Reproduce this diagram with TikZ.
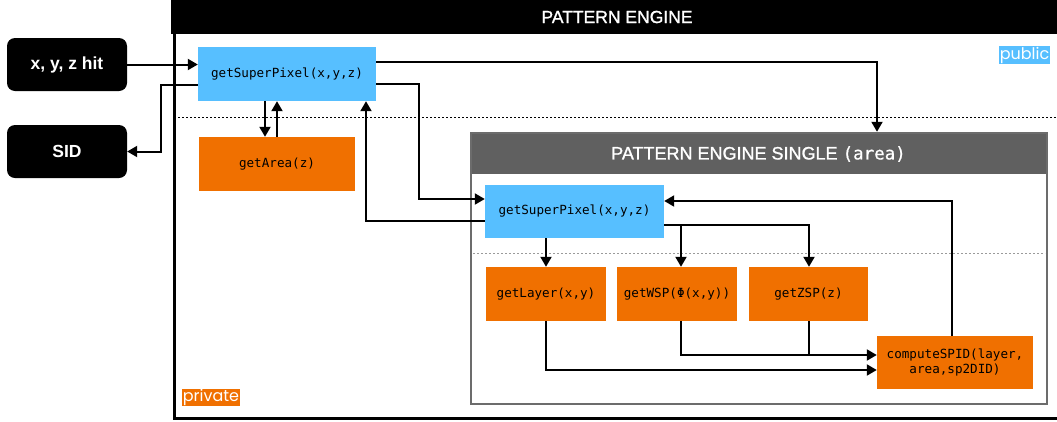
\documentclass[tikz,border=0pt]{standalone}
\usepackage{fontspec}
\setmainfont{Liberation Sans}
\setmonofont{DejaVu Sans Mono}
\newfontfamily\tagfont{Poppins}
\newfontfamily\titlefont{Liberation Sans}[FakeBold=1.2]
\newfontfamily\titlemono{DejaVu Sans Mono}[FakeBold=0.6]
\usetikzlibrary{arrows.meta}

\definecolor{pubblue}{HTML}{57BFFF}
\definecolor{privorange}{HTML}{F07000}
\definecolor{singlebar}{HTML}{606060}
\definecolor{singleedge}{HTML}{6C6C6C}
\definecolor{sepgray}{HTML}{9A9A9A}

\begin{document}
\begin{tikzpicture}[x=1pt,y=-1pt,
  fn/.style={minimum width=#1, minimum height=54pt, inner sep=0pt,
    font=\fontsize{12.6}{14.7}\selectfont\ttfamily, align=center},
  pubfn/.style={fn=#1, fill=pubblue},
  privfn/.style={fn=#1, fill=privorange},
  io/.style={fill=black, rounded corners=8pt, minimum width=120pt,
    minimum height=53pt, inner sep=0pt, text=white,
    font=\fontsize{17.5}{20}\selectfont\bfseries},
  arr/.style={line width=2pt, -{Triangle[length=10pt,width=11pt]}},
  wire/.style={line width=2pt},
  tag/.style={text=white, font=\tagfont\fontsize{16}{17}\selectfont,
    inner xsep=0.8pt, inner ysep=0.6pt},
  bartitle/.style={text=white, inner sep=0pt,
    font=\titlefont\fontsize{17.5}{20}\selectfont}
]
\useasboundingbox (0,0) rectangle (1057,421);

% ---- outer component: PATTERN ENGINE ----
\node[draw, line width=3pt, minimum width=893pt, minimum height=418pt,
      inner sep=0pt, anchor=north west] (engine) at (172.5,-1.5) {};
\fill[black] (171,0) rectangle (1066,34);
\node[bartitle] (enginetitle) at (617,17) {PATTERN ENGINE};
\draw[line width=1pt, dash pattern=on 2pt off 2pt] (174,117) -- (1057,117);
\node[tag, fill=pubblue] (public) at (1024.5,55) {public};
\node[tag, fill=privorange] (private) at (211,397.5) {private};

% ---- external inputs / outputs ----
\node[io] (hit) at (67,64.5) {x, y, z hit};
\node[io] (sid) at (67,151.5) {SID};

% ---- public entry and area lookup ----
\node[pubfn=178pt] (spTop) at (287,74) {getSuperPixel(x,y,z)};
\node[privfn=156pt] (area) at (277,164) {getArea(z)};

% ---- inner component: PATTERN ENGINE SINGLE ----
\fill[singlebar] (471,133) rectangle (1047,174);
\node[draw=singleedge, line width=2.5pt, minimum width=576pt,
      minimum height=271pt, inner sep=0pt] (sgl) at (759,268.5) {};
\node[bartitle, font=\titlefont\fontsize{18}{20}\selectfont] (sgltitle) at (758.5,154)
  {PATTERN ENGINE SINGLE {\titlemono\fontsize{17.5}{20}\selectfont(area)}};
\draw[sepgray, line width=1pt, dash pattern=on 2pt off 2pt] (473,253) -- (1045,253);

\node[pubfn=179pt, minimum height=53pt] (spIn) at (574.5,211.5) {getSuperPixel(x,y,z)};
\node[privfn=120pt] (layer) at (546,294) {getLayer(x,y)};
\node[privfn=120pt] (wsp) at (677,294) {getWSP(Φ(x,y))};
\node[privfn=119pt] (zsp) at (808.5,294) {getZSP(z)};
\node[privfn=156pt, minimum height=53pt] (spid) at (955,362.5)
  {computeSPID(layer,\\area,sp2DID)};

% ---- routing lanes ----
\coordinate (xb) at (161,0);
\coordinate (xa) at (265,0);
\coordinate (xr) at (366,0);
\coordinate (xs) at (419,0);
\coordinate (xw) at (681,0);
\coordinate (xz) at (809,0);
\coordinate (xp) at (877,0);
\coordinate (inA) at ([yshift=12.5pt]spIn.west);
\coordinate (inB) at ([yshift=-9.5pt]spIn.west);
\coordinate (outC) at ([yshift=-13.5pt]spIn.east);
\coordinate (inD) at ([yshift=7.5pt]spid.west);

% ---- connectors ----
\draw[arr] (hit.east) -- (hit.east -| spTop.west);
\draw[arr] ([yshift=-11pt]spTop.west) -| (xb |- sid.east) -- (sid.east);
\draw[arr] (xa |- spTop.south) -- (xa |- area.north);
\draw[arr] (area.north) -- (area.north |- spTop.south);
\draw[arr] ([yshift=12pt]spTop.east) -| (xp |- sgl.north);
\draw[arr] ([yshift=-10pt]spTop.east) -| (xs |- inA) -- (inA);
\draw[arr] (inB) -| (xr |- spTop.south);

\draw[arr] (spIn.south -| layer.north) -- (layer.north);
\draw[arr] (outC) -| (xz |- zsp.north);
\draw[arr] (xw |- outC) -- (xw |- wsp.north);
\draw[arr] (xw |- wsp.south) |- (inD);
\draw[wire] (xz |- zsp.south) -- (xz |- inD);
\draw[arr] (layer.south) |- ([yshift=-7.5pt]spid.west);
\draw[arr] ([xshift=-3pt]spid.north) |- ([yshift=10.5pt]spIn.east);
\end{tikzpicture}
\end{document}
